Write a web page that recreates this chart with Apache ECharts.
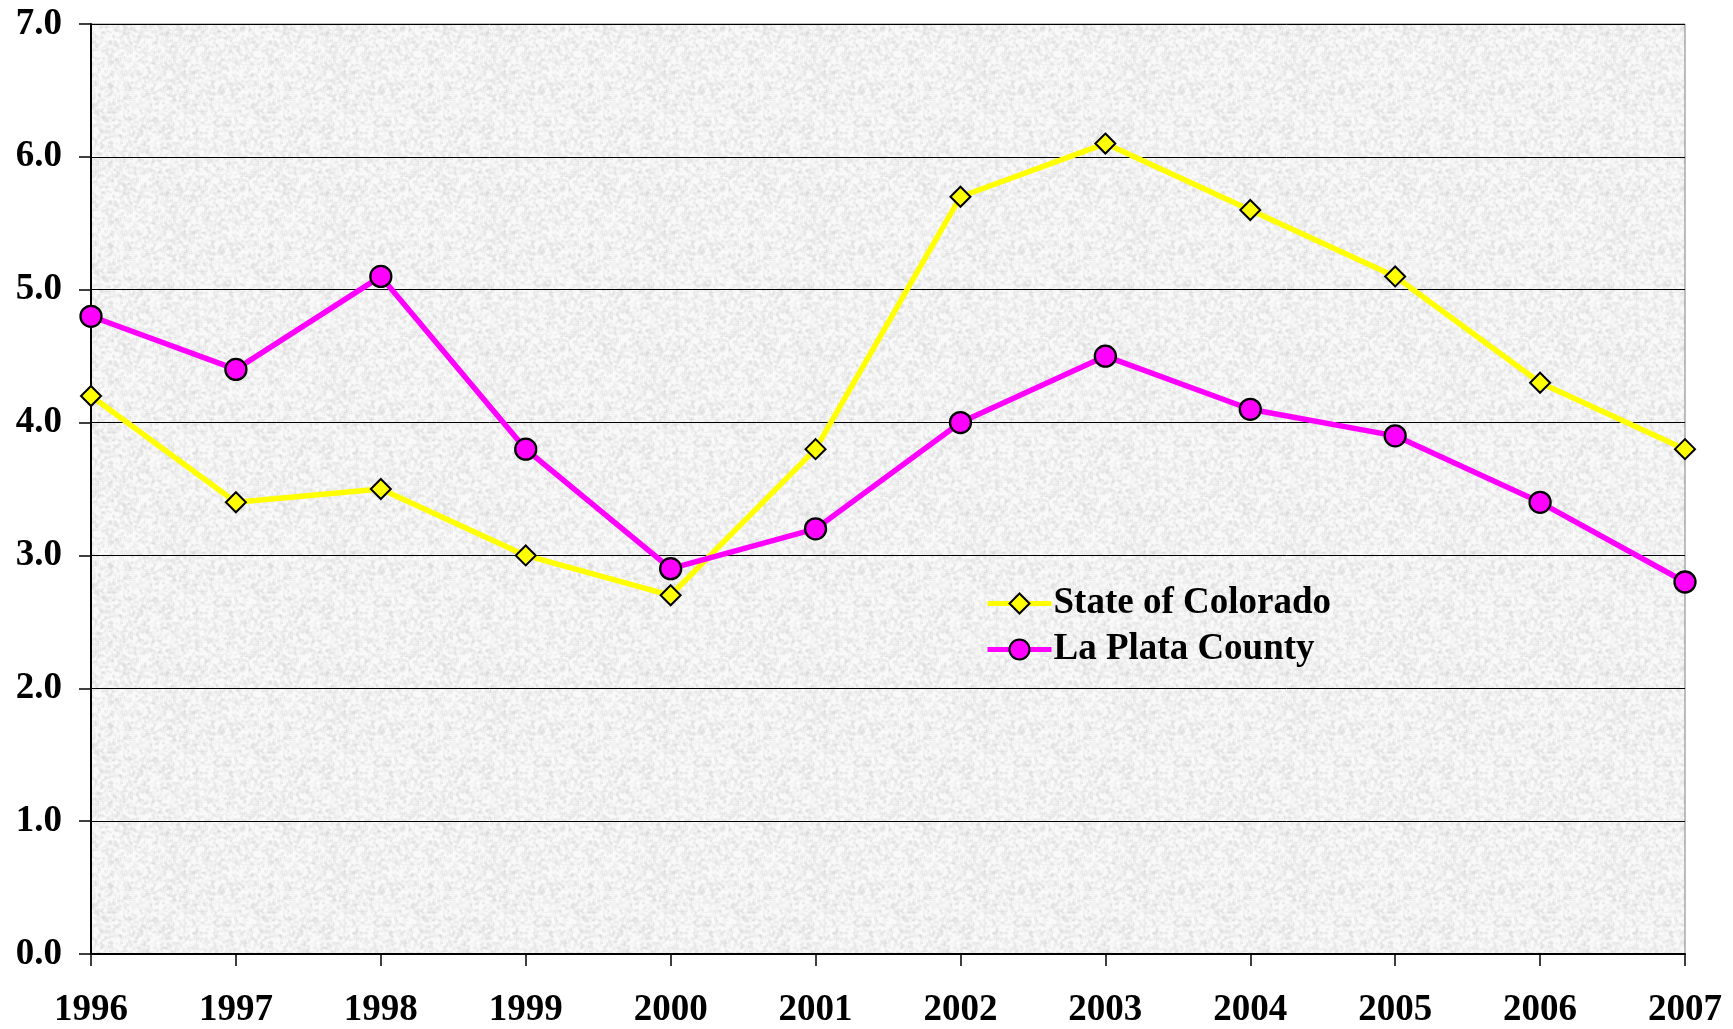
<!DOCTYPE html>
<html><head><meta charset="utf-8">
<script src="https://cdn.jsdelivr.net/npm/echarts@6/dist/echarts.min.js"></script>
<style>html,body{margin:0;padding:0;background:#fff}#c{width:1733px;height:1029px}</style>
</head><body><div id="c"></div>
<script>
const years = ['1996','1997','1998','1999','2000','2001','2002','2003','2004','2005','2006','2007'];
const colorado = [4.2,3.4,3.5,3.0,2.7,3.8,5.7,6.1,5.6,5.1,4.3,3.8];
const laPlata = [4.8,4.4,5.1,3.8,2.9,3.2,4.0,4.5,4.1,3.9,3.4,2.8];
const seriesNames = ['State of Colorado','La Plata County'];

// deterministic granite-like texture for the plot background
function makeTexture(){
  const n = 160, cv = document.createElement('canvas');
  cv.width = n; cv.height = n;
  const ctx = cv.getContext('2d');
  const img = ctx.createImageData(n, n);
  const raw = new Float32Array(n*n);
  for (let y=0;y<n;y++) for (let x=0;x<n;x++){
    const h = Math.sin(x*127.1 + y*311.7) * 43758.5453;
    raw[y*n+x] = h - Math.floor(h);
  }
  for (let y=0;y<n;y++) for (let x=0;x<n;x++){
    let s=0;
    for (let dy=-1;dy<=1;dy++) for (let dx=-1;dx<=1;dx++){
      s += raw[((y+dy+n)%n)*n + ((x+dx+n)%n)];
    }
    s/=9;
    const v = Math.min(250, Math.round(241 + (s-0.5)*80));
    const i=(y*n+x)*4;
    img.data[i]=v; img.data[i+1]=v; img.data[i+2]=v; img.data[i+3]=255;
  }
  ctx.putImageData(img,0,0);
  return cv;
}

const font = 'Liberation Serif, Times New Roman, serif';
const chart = echarts.init(document.getElementById('c'));
chart.setOption({
  animation:false,
  backgroundColor:'#ffffff',
  grid:{left:91,right:48,top:24,bottom:75,show:true,
        backgroundColor:{image:makeTexture(),repeat:'repeat'},
        borderColor:'#808080',borderWidth:1},
  legend:{
    orient:'vertical',left:980,top:580,itemWidth:64,itemHeight:25,itemGap:9,
    lineStyle:{width:5},
    textStyle:{fontFamily:font,fontWeight:'bold',fontSize:37,color:'#000',lineHeight:37,padding:[0,0,0,-3]},
    data:seriesNames
  },
  xAxis:{
    type:'category',data:years,boundaryGap:false,
    axisLine:{lineStyle:{color:'#000',width:2}},
    axisTick:{show:true,length:12,lineStyle:{color:'#000',width:1.5},alignWithLabel:true},
    axisLabel:{fontFamily:font,fontWeight:'bold',fontSize:37,color:'#000',margin:38},
    splitLine:{show:false}
  },
  yAxis:{
    type:'value',min:0,max:7,interval:1,
    axisLine:{show:true,lineStyle:{color:'#000',width:2}},
    axisTick:{show:true,length:12,lineStyle:{color:'#000',width:1.5}},
    axisLabel:{fontFamily:font,fontWeight:'bold',fontSize:37,color:'#000',margin:29,formatter:v=>v.toFixed(1)},
    splitLine:{show:true,lineStyle:{color:'#000',width:1}}
  },
  series:[
    {name:seriesNames[0],type:'line',data:colorado,symbol:'diamond',symbolSize:20,
     lineStyle:{color:'#ffff00',width:5.5},itemStyle:{color:'#ffff00',borderColor:'#000',borderWidth:2},z:3},
    {name:seriesNames[1],type:'line',data:laPlata,symbol:'circle',symbolSize:21,
     lineStyle:{color:'#ff00ff',width:5.5},itemStyle:{color:'#ff00ff',borderColor:'#000',borderWidth:2.3},z:4}
  ]
});
</script></body></html>
